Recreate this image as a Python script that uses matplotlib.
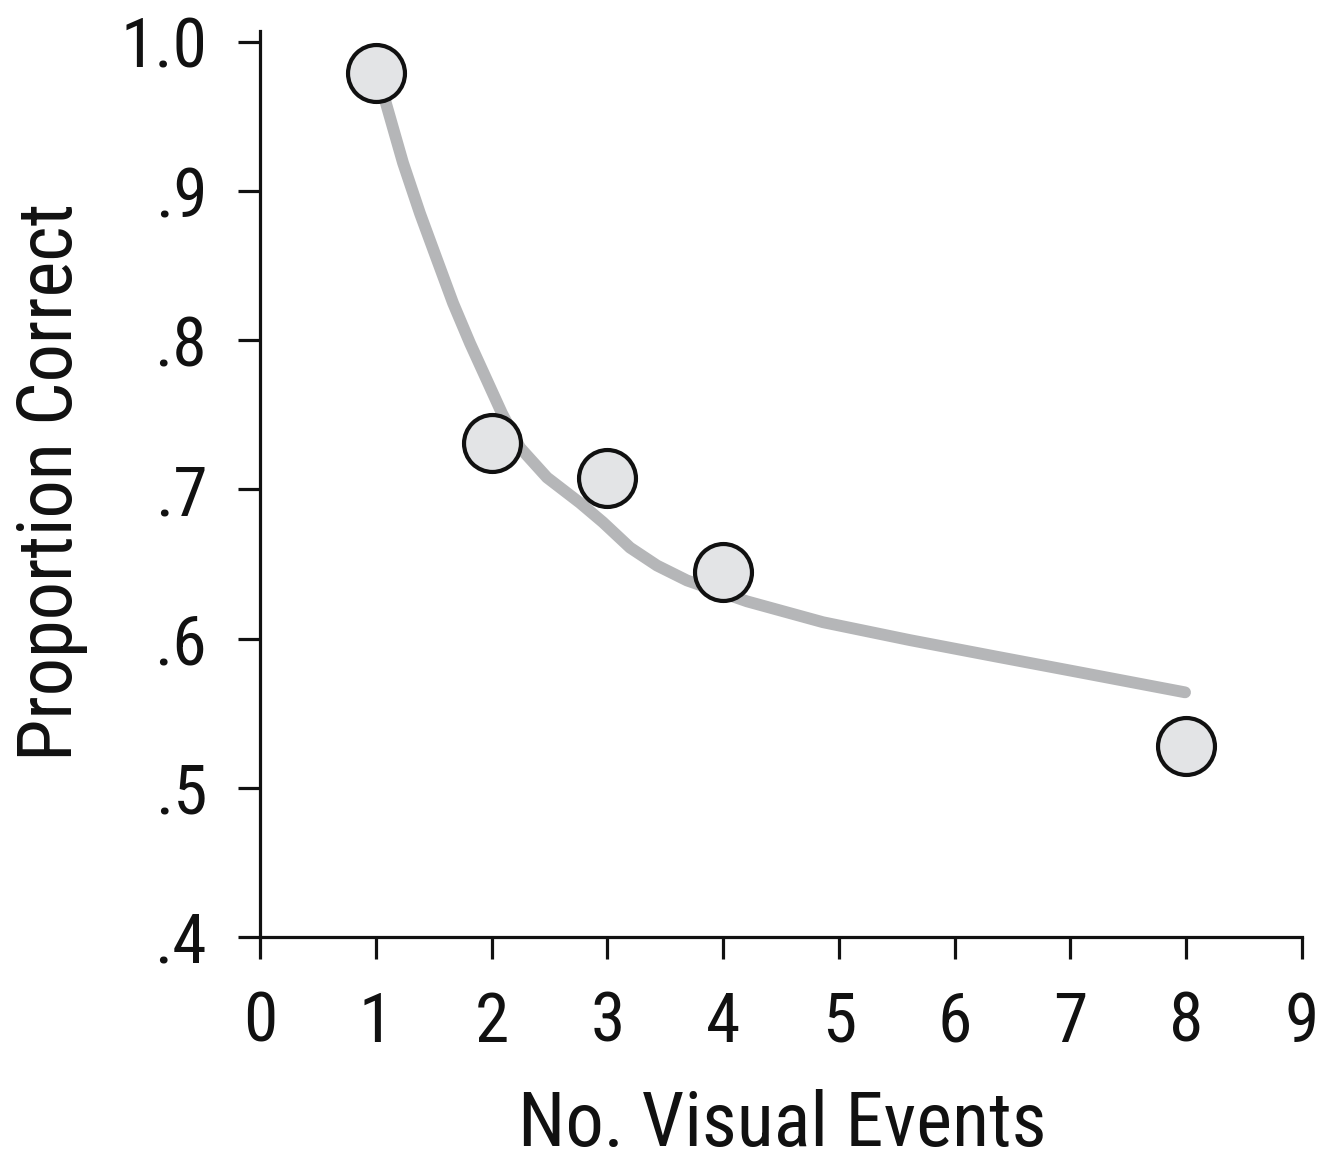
import matplotlib
matplotlib.use("Agg")
import matplotlib.pyplot as plt
from matplotlib import font_manager as fm

names = {f.name for f in fm.fontManager.ttflist}
cands = ['Roboto Condensed', 'Liberation Sans Narrow', 'Open Sans Condensed']
fam = next((c for c in cands if c in names), 'Liberation Sans')
plt.rcParams['font.family'] = [fam, 'DejaVu Sans']

# data
events = [1, 2, 3, 4, 8]
proportion = [0.979, 0.731, 0.708, 0.645, 0.528]
curve_x = [1.0, 1.080, 1.235, 1.382, 1.529, 1.667, 1.814, 1.961, 2.090, 2.246, 2.479,
           2.764, 2.962, 3.196, 3.429, 3.688, 4.206, 4.863, 5.614, 6.357, 7.108, 7.99]
curve_y = [0.977, 0.961, 0.919, 0.885, 0.854, 0.825, 0.798, 0.773, 0.751, 0.728, 0.708,
           0.691, 0.678, 0.661, 0.649, 0.639, 0.625, 0.611, 0.599, 0.588, 0.577, 0.564]
xticks = [0, 1, 2, 3, 4, 5, 6, 7, 8, 9]
yticks = [0.4, 0.5, 0.6, 0.7, 0.8, 0.9, 1.0]
ytick_labels = ['.4', '.5', '.6', '.7', '.8', '.9', '1.0']

fig = plt.figure(figsize=(13.37, 11.65), dpi=100)
ax = fig.add_axes([0.19447, 0.19571, 0.77935, 0.78112])
ax.plot(curve_x, curve_y, color='#b5b6b8', lw=8.5, solid_capstyle='round',
        solid_joinstyle='round', zorder=2)
ax.plot(events, proportion, 'o', ms=41, mfc='#e3e4e6', mec='#111111', mew=3,
        zorder=3, clip_on=False)

ax.set_xlim(0, 9)
ax.set_ylim(0.4, 1.01)
for s in ['top', 'right']:
    ax.spines[s].set_visible(False)
ax.spines['left'].set_bounds(0.4, 1.007)
for s in ['left', 'bottom']:
    ax.spines[s].set_linewidth(2.3)
    ax.spines[s].set_color('#111111')
ax.set_xticks(xticks)
ax.set_yticks(yticks)
ax.set_yticklabels(ytick_labels)
ax.tick_params(axis='both', length=16, width=2.3, color='#111111', labelsize=50,
               labelcolor='#111111')
ax.tick_params(axis='y', pad=22)
ax.tick_params(axis='x', pad=22)

ax.set_xlabel('No. Visual Events', fontsize=55, color='#111111')
ax.xaxis.label.set_va('baseline')
ax.xaxis.set_label_coords(0.501, -0.2297)
ax.set_ylabel('Proportion Correct', fontsize=55, color='#111111')
ax.yaxis.label.set_va('baseline')
ax.yaxis.set_label_coords(-0.1800, 0.5)

fig.savefig('out.png', dpi=100, facecolor='white')
